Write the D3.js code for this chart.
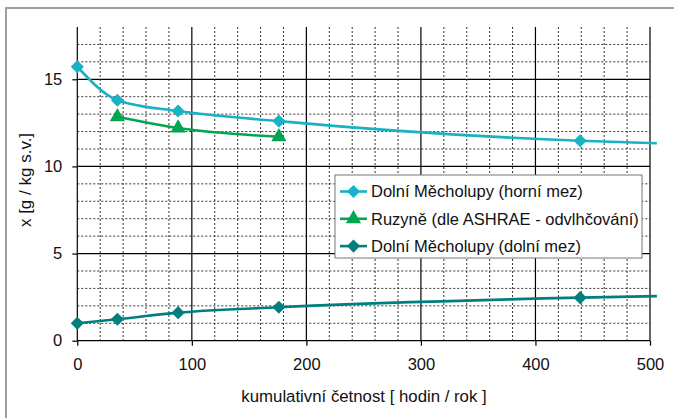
<!DOCTYPE html>
<html>
<head>
<meta charset="utf-8">
<script src="https://cdn.jsdelivr.net/npm/d3@7"></script>
<style>
  body { margin: 0; background: #fff; }
  svg { display: block; font-family: "Liberation Sans", Arial, sans-serif; }
</style>
</head>
<body>
<svg id="chart" width="674" height="418"></svg>
<script>
// ---- data ----
const upperX = [0, 35, 88, 176, 439, 506];
const upperY = [15.72, 13.8, 13.18, 12.6, 11.47, 11.33];
const upperMarked = [true, true, true, true, true, false];

const ruzyneX = [35, 88, 176];
const ruzyneY = [12.85, 12.2, 11.7];

const lowerX = [0, 35, 88, 176, 439, 506];
const lowerY = [1.0, 1.23, 1.61, 1.92, 2.47, 2.56];
const lowerMarked = [true, true, true, true, true, false];

const xTicks = [0, 100, 200, 300, 400, 500];
const yTicks = [0, 5, 10, 15];
const xMinor = d3.range(0, 501, 20);
const yMinor = d3.range(0, 18, 1);

const seriesNames = ["Dolní Měcholupy (horní mez)", "Ruzyně (dle ASHRAE - odvlhčování)", "Dolní Měcholupy (dolní mez)"];
const colors = ["#17b2c3", "#00a650", "#007f7e"];
const xTitle = "kumulativní četnost [ hodin / rok ]";
const yTitle = "x [g / kg s.v.]";

// ---- layout ----
const FS = 16.5;
const svg = d3.select("#chart");
const x = d3.scaleLinear().domain([0, 500]).range([77.3, 650]);
const y = d3.scaleLinear().domain([0, 18]).range([340.7, 27]);

// outer frame (only top/left visible)
svg.append("rect").attr("x", 6).attr("y", 8).attr("width", 700).attr("height", 440)
  .attr("fill", "none").attr("stroke", "#a0a0a0").attr("stroke-width", 2);

// minor grid
const g = svg.append("g");
g.selectAll(".mx").data(xMinor.filter(v => v % 100 !== 0)).enter().append("line")
  .attr("x1", d => x(d)).attr("x2", d => x(d)).attr("y1", y(18)).attr("y2", y(0))
  .attr("stroke", "#333").attr("stroke-width", 1).attr("stroke-dasharray", "2,2");
g.selectAll(".my").data(yMinor.filter(v => v % 5 !== 0)).enter().append("line")
  .attr("x1", x(0)).attr("x2", x(500)).attr("y1", d => y(d)).attr("y2", d => y(d))
  .attr("stroke", "#333").attr("stroke-width", 1).attr("stroke-dasharray", "2,2");
// major grid
g.selectAll(".Mx").data(xTicks.filter(v => v > 0)).enter().append("line")
  .attr("x1", d => x(d)).attr("x2", d => x(d)).attr("y1", y(18)).attr("y2", y(0))
  .attr("stroke", "#000").attr("stroke-width", 1.2);
g.selectAll(".My").data(yTicks.filter(v => v > 0)).enter().append("line")
  .attr("x1", x(0)).attr("x2", x(500)).attr("y1", d => y(d)).attr("y2", d => y(d))
  .attr("stroke", "#000").attr("stroke-width", 1.2);

// axes
const xAxis = d3.axisBottom(x).tickValues(xTicks).tickSize(5).tickPadding(11).tickFormat(d3.format("d"));
const yAxis = d3.axisLeft(y).tickValues(yTicks).tickSize(5).tickPadding(10).tickFormat(d3.format("d"));
const gx = svg.append("g").attr("transform", `translate(0,${y(0)})`).call(xAxis);
const gy = svg.append("g").attr("transform", `translate(${x(0)},0)`).call(yAxis);
[gx, gy].forEach(a => {
  a.select(".domain").remove();
  a.selectAll("line").attr("stroke", "#000").attr("stroke-width", 1.2);
  a.selectAll("text").attr("font-size", FS).attr("fill", "#111").attr("font-family", "Liberation Sans, Arial, sans-serif");
});
gx.selectAll("text").attr("dy", "0.8em");
svg.append("line").attr("x1", x(0)).attr("x2", x(0)).attr("y1", y(18)).attr("y2", y(0)).attr("stroke", "#000").attr("stroke-width", 1.2);
svg.append("line").attr("x1", x(0)).attr("x2", x(500)).attr("y1", y(0)).attr("y2", y(0)).attr("stroke", "#000").attr("stroke-width", 1.2);

// titles
svg.append("text").attr("x", 364).attr("y", 402).attr("text-anchor", "middle")
  .attr("font-size", 16.8).attr("fill", "#111").text(xTitle);
svg.append("text").attr("transform", "translate(31,180) rotate(-90)").attr("text-anchor", "middle")
  .attr("font-size", 17).attr("fill", "#111").text(yTitle);

// series
const line = d3.line().x(d => x(d[0])).y(d => y(d[1])).curve(d3.curveMonotoneX);
const diamond = d3.symbol().type(d3.symbolDiamond2).size(110);
const triangle = d3.symbol().type(d3.symbolTriangle).size(100);

function drawSeries(xs, ys, marked, color, sym) {
  const pts = xs.map((v, i) => [v, ys[i], marked[i]]);
  svg.append("path").datum(pts).attr("d", line).attr("fill", "none")
    .attr("stroke", color).attr("stroke-width", 2.6);
  svg.append("g").selectAll("path").data(pts.filter(p => p[2])).enter().append("path")
    .attr("d", sym).attr("fill", color)
    .attr("transform", p => `translate(${x(p[0])},${y(p[1])})`);
}
drawSeries(lowerX, lowerY, lowerMarked, colors[2], diamond);
drawSeries(ruzyneX, ruzyneY, ruzyneX.map(() => true), colors[1], triangle);
drawSeries(upperX, upperY, upperMarked, colors[0], diamond);

// legend
const lg = svg.append("g");
lg.append("rect").attr("x", 335).attr("y", 175).attr("width", 307).attr("height", 83)
  .attr("fill", "#fff").attr("stroke", "#777").attr("stroke-width", 1);
const syms = [diamond, triangle, diamond];
seriesNames.forEach((name, i) => {
  const cy = 191.5 + i * 27.3;
  lg.append("line").attr("x1", 340).attr("x2", 367).attr("y1", cy).attr("y2", cy)
    .attr("stroke", colors[i]).attr("stroke-width", 2.6);
  lg.append("path").attr("d", syms[i]).attr("fill", colors[i]).attr("transform", `translate(353.5,${cy})`);
  lg.append("text").attr("x", 371).attr("y", cy).attr("dy", "0.36em")
    .attr("font-size", FS).attr("fill", "#111").text(name);
});
</script>
</body>
</html>
